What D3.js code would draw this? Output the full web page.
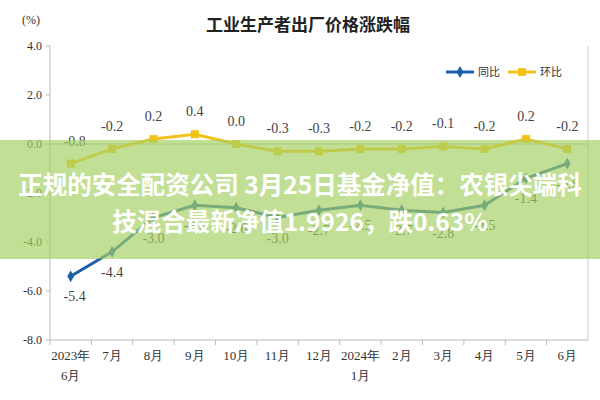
<!DOCTYPE html>
<html><head><meta charset="utf-8">
<script src="https://cdn.jsdelivr.net/npm/d3@7"></script>
<style>body{margin:0;background:#fff}svg{display:block}</style>
</head><body><svg id="c" width="600" height="400"></svg>
<script>
// data
const months = ["2023年|6月","7月","8月","9月","10月","11月","12月","2024年|1月","2月","3月","4月","5月","6月"];
const yoy = [-5.4,-4.4,-3.0,-2.5,-2.6,-3.0,-2.7,-2.5,-2.7,-2.8,-2.5,-1.4,-0.8];
const mom = [-0.8,-0.2,0.2,0.4,0.0,-0.3,-0.3,-0.2,-0.2,-0.1,-0.2,0.2,-0.2];
const yTicks = [4,2,0,-2,-4,-6,-8];

const svg = d3.select("#c");
const serif = "'Liberation Serif','DejaVu Serif',serif";
const cjk = "'Noto Sans CJK SC',sans-serif";

const x = d3.scaleBand().domain(months).range([50, 588]);
const y = d3.scaleLinear().domain([-8, 4]).range([340, 46]);
const cx = d => x(d) + x.bandwidth() / 2;

// title
svg.append("text").attr("x", 308).attr("y", 31).attr("text-anchor", "middle")
  .attr("font-family", cjk).attr("font-weight", "bold").attr("font-size", 17).attr("fill", "#222")
  .text("工业生产者出厂价格涨跌幅");
svg.append("text").attr("x", 22).attr("y", 24).attr("font-family", serif).attr("font-size", 12).attr("fill", "#333").text("(%)");

// axes
svg.append("line").attr("x1", 50).attr("x2", 50).attr("y1", 46).attr("y2", 340).attr("stroke", "#bbb");
svg.append("line").attr("x1", 588).attr("x2", 588).attr("y1", 46).attr("y2", 340).attr("stroke", "#ccc");
svg.append("line").attr("x1", 50).attr("x2", 588).attr("y1", y(0)).attr("y2", y(0)).attr("stroke", "#bbb");
svg.append("line").attr("x1", 50).attr("x2", 588).attr("y1", 340).attr("y2", 340).attr("stroke", "#bbb");
months.forEach(m => {
  svg.append("line").attr("x1", x(m)).attr("x2", x(m)).attr("y1", 340).attr("y2", 345).attr("stroke", "#bbb");
  const parts = m.split("|");
  parts.forEach((p, i) => svg.append("text").attr("x", cx(m)).attr("y", 360 + i * 20)
    .attr("text-anchor", "middle").attr("font-family", serif).attr("font-size", 13).attr("fill", "#333").text(p));
});
yTicks.forEach(t => {
  svg.append("line").attr("x1", 46).attr("x2", 50).attr("y1", y(t)).attr("y2", y(t)).attr("stroke", "#bbb");
  svg.append("text").attr("x", 42).attr("y", y(t) + 4).attr("text-anchor", "end")
    .attr("font-family", serif).attr("font-size", 12).attr("fill", "#333").text(t.toFixed(1));
});

// lines
const line = d3.line().x((d, i) => cx(months[i])).y(d => y(d));
function series(vals, color, dy, marker) {
  svg.append("path").datum(vals).attr("d", line).attr("fill", "none").attr("stroke", color).attr("stroke-width", 3);
  vals.forEach((v, i) => {
    if (marker === "d") {
      svg.append("path").attr("d", d3.symbol(d3.symbolDiamond, 40)()).attr("transform", `translate(${cx(months[i])},${y(v)})`).attr("fill", color);
    } else {
      svg.append("rect").attr("x", cx(months[i]) - 4).attr("y", y(v) - 4).attr("width", 8).attr("height", 8).attr("fill", color);
    }
    svg.append("text").attr("x", cx(months[i]) + (i === 0 ? 4 : 0)).attr("y", y(v) + dy).attr("text-anchor", "middle")
      .attr("font-family", serif).attr("font-size", 14).attr("fill", "#444").text(v.toFixed(1));
  });
}
series(mom, "#f2c218", -18, "s");
series(yoy, "#1d5fa8", 25, "d");

// legend
svg.append("line").attr("x1", 446).attr("x2", 474).attr("y1", 72).attr("y2", 72).attr("stroke", "#1d5fa8").attr("stroke-width", 3);
svg.append("path").attr("d", d3.symbol(d3.symbolDiamond, 40)()).attr("transform", "translate(460,72)").attr("fill", "#1d5fa8");
svg.append("text").attr("x", 478).attr("y", 76).attr("font-family", cjk).attr("font-size", 11).attr("fill", "#333").text("同比");
svg.append("line").attr("x1", 508).attr("x2", 536).attr("y1", 72).attr("y2", 72).attr("stroke", "#f2c218").attr("stroke-width", 3);
svg.append("rect").attr("x", 518).attr("y", 68).attr("width", 8).attr("height", 8).attr("fill", "#f2c218");
svg.append("text").attr("x", 540).attr("y", 76).attr("font-family", cjk).attr("font-size", 11).attr("fill", "#333").text("环比");

// overlay banner
svg.append("rect").attr("x", 0).attr("y", 140).attr("width", 600).attr("height", 119).attr("fill", "rgb(165,208,100)").attr("opacity", 0.68);
["正规的安全配资公司 3月25日基金净值：农银尖端科", "技混合最新净值1.9926，跌0.63%"].forEach((s, i) =>
  svg.append("text").attr("x", 300).attr("y", 194 + i * 37).attr("text-anchor", "middle")
    .attr("font-family", cjk).attr("font-weight", "bold").attr("font-size", 24.5).attr("fill", "#fff").text(s));
</script></body></html>
